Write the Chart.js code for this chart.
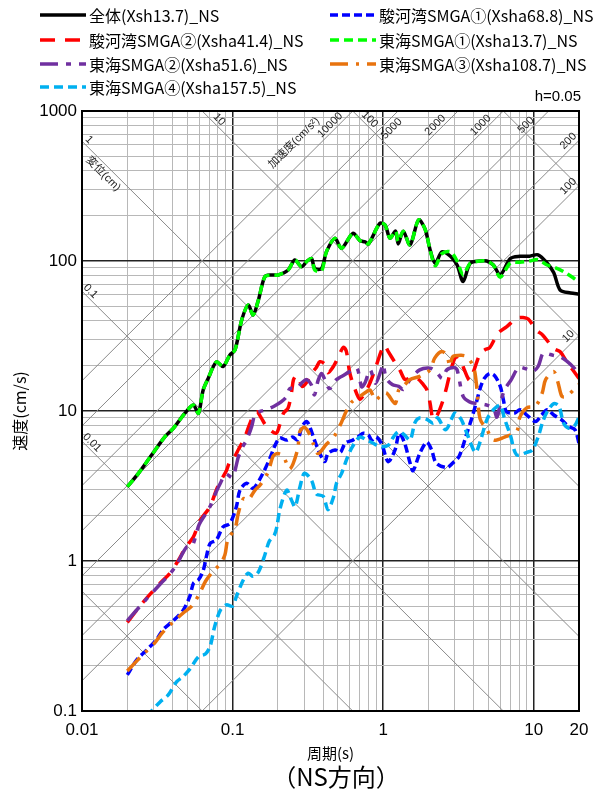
<!DOCTYPE html>
<html>
<head>
<meta charset="utf-8">
<title>速度応答スペクトル (NS方向)</title>
<script src="https://cdn.jsdelivr.net/npm/chart.js@4.4.1/dist/chart.umd.min.js"></script>
<style>
  body { margin: 0; background: #fff; }
  #wrap { position: relative; width: 598px; height: 794px; overflow: hidden; font-family: "Noto Sans CJK JP", "Noto Sans", sans-serif; color: #000; }
  #chart { position: absolute; left: 0; top: 0; }
  .item { position: absolute; height: 22px; display: flex; align-items: center; font-size: 16px; white-space: nowrap; }
  .item svg { margin-right: 3px; }
  #hval { position: absolute; right: 17px; top: 87px; font-size: 15px; font-family: "Liberation Sans", Arial, sans-serif; }
  #caption { position: absolute; left: 236px; width: 200px; text-align: center; top: 758px; font-size: 24px; }
</style>
</head>
<body>
<div id="wrap">
  <canvas id="chart" width="598" height="794"></canvas>
  <div id="legend"></div>
  <div id="hval">h=0.05</div>
  <div id="caption">（NS方向）</div>
</div>
<script>
// 周期(s) と 速度(cm/s) を図から読み取り
const zentaiT = [0.02, 0.0237, 0.029, 0.0356, 0.0404, 0.0483, 0.0549, 0.0593, 0.0638, 0.0689, 0.0782, 0.0865, 0.096, 0.1038, 0.115, 0.127, 0.137, 0.1485, 0.164, 0.182, 0.201, 0.234, 0.259, 0.287, 0.31, 0.334, 0.352, 0.39, 0.42, 0.478, 0.53, 0.63, 0.70, 0.76, 0.80, 0.95, 1.03, 1.11, 1.21, 1.26, 1.36, 1.51, 1.72, 1.90, 2.05, 2.22, 2.46, 2.8, 3.1, 3.4, 3.79, 4.4, 4.88, 5.4, 6.0, 7.0, 8.1, 9.4, 10.7, 12.3, 13.6, 15.0, 17.6, 20];
const zentaiV = [3.13, 3.84, 5.09, 6.74, 7.67, 9.67, 10.96, 9.67, 13.8, 16.5, 21.3, 19.8, 23.6, 25.5, 40.4, 50.9, 43.7, 55, 78.6, 80.7, 80.7, 87, 101.6, 91.6, 99, 104, 89, 89, 115, 141.6, 121.6, 153, 137, 134, 130, 178, 174, 142, 158, 130, 158, 128, 188, 163, 119, 96.6, 115, 107.5, 94, 73, 96.6, 100, 100, 94, 80.7, 104, 107.6, 107.6, 110, 96.6, 83.5, 64, 61.2, 60.3];

const surugaT1 = [0.02, 0.0231, 0.0269, 0.0313, 0.0347, 0.0404, 0.047, 0.052, 0.055, 0.0594, 0.064, 0.067, 0.071, 0.078, 0.0866, 0.096, 0.106, 0.112, 0.124, 0.137, 0.156, 0.178, 0.19, 0.206, 0.229, 0.25, 0.27, 0.29, 0.31, 0.325, 0.35, 0.38, 0.41, 0.43, 0.48, 0.52, 0.56, 0.63, 0.68, 0.74, 0.8, 0.84, 0.9, 0.98, 1.08, 1.2, 1.28, 1.39, 1.51, 1.58, 1.75, 1.95, 2.1, 2.25, 2.65, 2.9, 3.2, 3.6, 3.9, 4.2, 4.4, 4.7, 5.1, 5.5, 6.0, 6.3, 6.6, 7.5, 8.1, 9.0, 10.3, 11.3, 12.3, 13.6, 15.4, 17.0, 18.8, 20];
const surugaV1 = [0.174, 0.219, 0.255, 0.30, 0.35, 0.40, 0.47, 0.58, 0.71, 0.75, 0.87, 1.07, 1.31, 1.38, 1.69, 1.78, 2.3, 2.97, 3.3, 3.05, 3.7, 4.9, 5.8, 6.6, 6.4, 6.7, 6.4, 7.9, 8.5, 7.9, 6.4, 5.2, 4.6, 5.2, 5.5, 5.3, 6.1, 6.4, 6.7, 7.1, 6.9, 6.4, 6.7, 6.0, 4.6, 5.5, 7.1, 6.1, 4.5, 4.0, 5.2, 6.2, 5.5, 4.5, 4.2, 4.5, 5.0, 7.1, 9.1, 11.8, 14.1, 16.5, 17.8, 17.2, 14.6, 11.8, 9.9, 9.7, 10.2, 9.4, 8.5, 9.4, 10.2, 9.4, 8.7, 7.9, 7.5, 6.1];

const surugaT2 = [0.02, 0.0256, 0.033, 0.0384, 0.0426, 0.0496, 0.055, 0.061, 0.0707, 0.078, 0.083, 0.091, 0.096, 0.1, 0.11, 0.12, 0.13, 0.138, 0.145, 0.155, 0.165, 0.18, 0.195, 0.205, 0.217, 0.234, 0.246, 0.254, 0.265, 0.275, 0.29, 0.31, 0.33, 0.36, 0.38, 0.41, 0.43, 0.47, 0.51, 0.545, 0.57, 0.6, 0.65, 0.7, 0.75, 0.82, 0.9, 0.97, 1.02, 1.08, 1.2, 1.3, 1.4, 1.55, 1.7, 1.85, 1.95, 2.05, 2.15, 2.3, 2.5, 2.65, 2.78, 3.0, 3.2, 3.45, 3.75, 4.0, 4.4, 4.8, 5.1, 5.8, 6.6, 7.7, 8.5, 9.2, 10.4, 11.5, 13.6, 15, 16.6, 20];
const surugaV2 = [0.39, 0.535, 0.71, 0.83, 0.97, 1.26, 1.45, 1.87, 2.3, 2.97, 3.4, 4.0, 4.6, 4.7, 5.6, 6.6, 8.2, 9.4, 9.9, 9.0, 8.1, 7.4, 7.1, 8.0, 9.6, 10.5, 13.2, 16.2, 17.2, 16.5, 14.6, 15.5, 17.5, 19.5, 21.3, 20.5, 18.0, 20, 23.5, 26.6, 25, 18, 14, 12, 13, 15.5, 20, 25, 27.5, 25, 21, 18.5, 16.2, 16.8, 16.4, 15, 13.9, 11.3, 8.8, 9.5, 11.8, 14.6, 17.8, 22.5, 23, 19, 16, 18.5, 24, 25.8, 26.4, 33, 36.4, 41.5, 42, 41, 34.7, 32, 26.1, 24.8, 21.3, 16.5];

const tokaiT1 = [0.02, 0.0237, 0.029, 0.0356, 0.0404, 0.0483, 0.0549, 0.0593, 0.0638, 0.0689, 0.0782, 0.0865, 0.096, 0.1038, 0.115, 0.127, 0.137, 0.1485, 0.164, 0.182, 0.201, 0.234, 0.259, 0.287, 0.31, 0.334, 0.352, 0.39, 0.42, 0.478, 0.53, 0.63, 0.70, 0.76, 0.80, 0.95, 1.03, 1.11, 1.21, 1.26, 1.36, 1.51, 1.72, 1.90, 2.05, 2.22, 2.46, 2.8, 3.1, 3.4, 3.79, 4.4, 4.88, 5.4, 6.0, 7.0, 8.1, 9.4, 10.7, 12.3, 13.6, 15.8, 20];
const tokaiV1 = [3.13, 3.84, 5.09, 6.74, 7.67, 9.67, 10.96, 9.67, 13.8, 16.5, 21.3, 19.8, 23.6, 25.5, 40.4, 50.9, 43.7, 55, 78.6, 80.7, 80.7, 87, 101.6, 91.6, 99, 104, 87, 86, 115, 141.6, 121.6, 153, 137, 134, 130, 178, 174, 142, 158, 135, 158, 128, 188, 163, 119, 93, 112, 115, 100, 81, 96.6, 100, 100, 94, 78, 97, 98, 100, 102, 94, 91, 85, 72.7];

const tokaiT2 = [0.02, 0.0256, 0.033, 0.0384, 0.0426, 0.0496, 0.054, 0.06, 0.07, 0.078, 0.083, 0.09, 0.1, 0.105, 0.109, 0.117, 0.124, 0.134, 0.141, 0.151, 0.168, 0.19, 0.21, 0.229, 0.24, 0.266, 0.29, 0.31, 0.334, 0.35, 0.37, 0.39, 0.41, 0.44, 0.49, 0.54, 0.6, 0.67, 0.72, 0.76, 0.82, 0.89, 0.98, 1.0, 1.05, 1.15, 1.27, 1.36, 1.51, 1.75, 2.05, 2.25, 2.47, 2.65, 2.95, 3.1, 3.4, 3.75, 4.2, 4.8, 5.4, 5.7, 6.0, 6.4, 7.1, 7.7, 8.1, 9.0, 9.8, 10.7, 11.5, 12.2, 13.5, 15, 16.6, 18.6, 20];
const tokaiV2 = [0.40, 0.53, 0.70, 0.82, 0.95, 1.24, 1.26, 1.75, 2.25, 2.9, 3.3, 3.8, 3.6, 4.2, 4.9, 5.8, 6.4, 7.9, 9.5, 9.9, 10.2, 10.8, 11.5, 12.5, 14.1, 14.1, 15.5, 16.2, 14.9, 12.8, 16, 17.8, 16.2, 14.1, 16.2, 17.2, 18.3, 19.3, 14.5, 15.5, 18.8, 15.3, 19.3, 20.5, 16.5, 15, 14.6, 13.9, 16.2, 18.8, 19.3, 18.3, 16.5, 18.8, 19.5, 18.8, 12.5, 11.5, 11.2, 11.0, 10.4, 9.1, 11.2, 13.8, 16.2, 18.8, 19.6, 19, 18.3, 19.8, 24.2, 24.2, 23.5, 23, 21.5, 19.3, 17.4];

const tokaiT3 = [0.02, 0.0256, 0.03, 0.034, 0.04, 0.047, 0.0535, 0.06, 0.066, 0.074, 0.083, 0.089, 0.093, 0.104, 0.109, 0.118, 0.127, 0.141, 0.152, 0.172, 0.186, 0.2, 0.217, 0.24, 0.27, 0.28, 0.3, 0.32, 0.345, 0.37, 0.42, 0.47, 0.52, 0.57, 0.62, 0.7, 0.78, 0.82, 0.89, 0.95, 1.05, 1.2, 1.27, 1.36, 1.51, 1.75, 2.05, 2.2, 2.45, 2.65, 2.78, 2.9, 3.3, 3.6, 4.0, 4.2, 4.4, 4.9, 5.4, 6.4, 7.7, 8.1, 9.0, 10.3, 11.4, 12, 13.6, 14.5, 15.4, 16.5, 19.4, 20];
const tokaiV3 = [0.185, 0.24, 0.28, 0.33, 0.39, 0.45, 0.5, 0.6, 0.73, 0.85, 0.96, 1.1, 1.39, 1.65, 2.07, 2.6, 2.55, 2.97, 3.2, 3.9, 5.0, 5.2, 5.0, 4.1, 5.5, 7.3, 7.8, 7.2, 6.0, 5.2, 6.0, 6.7, 8.1, 10.0, 11.5, 12.5, 13.5, 13.8, 11.8, 12.5, 13.2, 11.2, 13.8, 14.6, 16.2, 17, 18.8, 22.5, 24.9, 23.5, 19.8, 23, 23.5, 23, 19.5, 14, 8.9, 7.5, 6.4, 6.7, 7.3, 9.1, 10.5, 10.8, 13.2, 16.2, 18.3, 15.5, 12.5, 12.5, 14.6, 15];

const tokaiT4 = [0.027, 0.029, 0.033, 0.0374, 0.0426, 0.047, 0.052, 0.0594, 0.066, 0.071, 0.076, 0.083, 0.091, 0.1, 0.106, 0.118, 0.127, 0.137, 0.149, 0.164, 0.175, 0.19, 0.197, 0.206, 0.229, 0.246, 0.26, 0.28, 0.30, 0.334, 0.36, 0.4, 0.43, 0.47, 0.49, 0.53, 0.57, 0.62, 0.7, 0.78, 0.86, 0.95, 1.08, 1.17, 1.27, 1.39, 1.51, 1.63, 1.75, 1.95, 2.15, 2.3, 2.6, 2.9, 3.0, 3.3, 3.6, 4.1, 4.4, 4.9, 5.4, 6.0, 6.4, 7.0, 7.7, 9.0, 9.8, 10.7, 11.5, 12.3, 13.6, 14.7, 15.8, 17, 18.6, 20];
const tokaiV4 = [0.092, 0.1, 0.115, 0.128, 0.157, 0.17, 0.19, 0.23, 0.24, 0.27, 0.365, 0.47, 0.51, 0.5, 0.58, 0.75, 0.83, 0.79, 0.85, 1.1, 1.35, 1.5, 1.69, 2.2, 2.97, 2.55, 2.3, 3.1, 3.84, 3.46, 2.8, 2.7, 2.2, 2.7, 3.3, 3.84, 4.7, 5.7, 6.7, 6.4, 6.1, 5.8, 5.9, 6.7, 7.3, 6.9, 6.4, 8.4, 9.0, 8.8, 8.3, 9.0, 7.5, 9.2, 9.7, 8.8, 7.1, 5.3, 6.2, 8.8, 10.2, 10.9, 8.9, 6.9, 5.1, 5.3, 5.5, 6.7, 8.5, 9.9, 11.2, 10.8, 8.3, 7.7, 7.9, 9.1];

const seriesNames = ['全体(Xsh13.7)_NS', '駿河湾SMGA①(Xsha68.8)_NS', '駿河湾SMGA②(Xsha41.4)_NS', '東海SMGA①(Xsha13.7)_NS', '東海SMGA②(Xsha51.6)_NS', '東海SMGA③(Xsha108.7)_NS', '東海SMGA④(Xsha157.5)_NS'];
const seriesT = [zentaiT, surugaT1, surugaT2, tokaiT1, tokaiT2, tokaiT3, tokaiT4];
const seriesV = [zentaiV, surugaV1, surugaV2, tokaiV1, tokaiV2, tokaiV3, tokaiV4];
const seriesColors = ['#000000', '#0000ff', '#ff0000', '#00ff00', '#7030a0', '#e8730e', '#00b0f0'];
const seriesDash = [[], [8, 4], [15, 10], [9, 5], [18, 8, 5, 8], [18, 8, 3, 8], [9, 5]];

// 三軸の斜線 (変位 cm, 加速度 cm/s2)
const dispLines = [0.001, 0.01, 0.1, 1, 10, 100, 1000];
const accLines = [10, 100, 200, 500, 1000, 2000, 5000, 10000];

const xLabels = [0.01, 0.1, 1, 10, 20];
const yLabels = [0.1, 1, 10, 100, 1000];

// 凡例
const legendSlots = [[40, 15], [330, 15], [40, 40], [330, 40], [40, 64], [330, 64], [40, 87]];
const legendEl = document.getElementById('legend');
seriesNames.forEach((name, i) => {
  const [lx, ly] = legendSlots[i];
  const d = document.createElement('div');
  d.className = 'item';
  d.style.left = lx + 'px';
  d.style.top = (ly - 11) + 'px';
  const dash = seriesDash[i].length ? `stroke-dasharray="${seriesDash[i].join(' ')}"` : '';
  d.innerHTML = `<svg width="46" height="6"><line x1="0" y1="3" x2="46" y2="3" stroke="${seriesColors[i]}" stroke-width="3.5" ${dash}/></svg><span>${name}</span>`;
  legendEl.appendChild(d);
});

function logTicks(min, max) {
  const t = [];
  for (let e = -2; e <= 3; e++) {
    for (let m = 1; m < 10; m++) {
      const v = +(m * Math.pow(10, e)).toPrecision(3);
      if (v >= min * 0.9999 && v <= max * 1.0001) t.push({ value: v });
    }
  }
  return t;
}
function isDecade(v) {
  const l = Math.log10(v);
  return Math.abs(l - Math.round(l)) < 1e-6;
}

const tripartite = {
  id: 'tripartite',
  beforeDatasetsDraw(chart) {
    const { ctx, chartArea: a, scales: { x, y } } = chart;
    const tMin = x.min, tMax = x.max;
    ctx.save();
    ctx.beginPath();
    ctx.rect(a.left, a.top, a.right - a.left, a.bottom - a.top);
    ctx.clip();
    ctx.strokeStyle = '#8a8a8a';
    ctx.lineWidth = 1;
    const seg = (t0, v0, t1, v1) => {
      ctx.beginPath();
      ctx.moveTo(x.getPixelForValue(t0), y.getPixelForValue(v0));
      ctx.lineTo(x.getPixelForValue(t1), y.getPixelForValue(v1));
      ctx.stroke();
    };
    dispLines.forEach(d => seg(tMin, 2 * Math.PI * d / tMin, tMax, 2 * Math.PI * d / tMax));
    accLines.forEach(A => seg(tMin, A * tMin / (2 * Math.PI), tMax, A * tMax / (2 * Math.PI)));

    // 斜線ラベル
    const r = Math.SQRT1_2;
    ctx.fillStyle = '#222';
    ctx.textAlign = 'center';
    ctx.textBaseline = 'middle';
    const put = (text, px, py, rot, size) => {
      ctx.save();
      ctx.translate(px, py);
      ctx.rotate(rot);
      ctx.font = size + 'px "Liberation Sans", "Noto Sans CJK JP", sans-serif';
      ctx.fillText(text, 0, 0);
      ctx.restore();
    };
    // 変位: 右下がり
    const dispLeft = (d, text, s, p) => {
      const cx = a.left, cy = y.getPixelForValue(2 * Math.PI * d / tMin);
      put(text, cx + r * s + r * p, cy + r * s - r * p, Math.PI / 4, 11);
    };
    const dispTop = (d, text, s, p) => {
      const cx = x.getPixelForValue(2 * Math.PI * d / y.max), cy = a.top;
      put(text, cx + r * s + r * p, cy + r * s - r * p, Math.PI / 4, 11);
    };
    dispLeft(1, '1', 4, 6);
    dispLeft(1, '変位(cm)', 38, -8);
    dispLeft(0.1, '0.1', 6, 6);
    dispLeft(0.01, '0.01', 8, 6);
    dispTop(10, '10', 18, 6);
    dispTop(100, '100', 18, 6);
    // 加速度: 右上がり
    const accTop = (A, text, s, p) => {
      const cx = x.getPixelForValue(2 * Math.PI * y.max / A), cy = a.top;
      put(text, cx - r * s - r * p, cy + r * s - r * p, -Math.PI / 4, 11);
    };
    const accRight = (A, text, s, p) => {
      const cx = a.right, cy = y.getPixelForValue(A * tMax / (2 * Math.PI));
      put(text, cx - r * s - r * p, cy + r * s - r * p, -Math.PI / 4, 11);
    };
    accTop(10000, '加速度(cm/s²)', 64, 19);
    accTop(10000, '10000', 26, 6);
    accTop(5000, '5000', 17, -8);
    accTop(2000, '2000', 26, 6);
    accTop(1000, '1000', 26, 6);
    accTop(500, '500', 26, 6);
    accRight(200, '200', 8, 7);
    accRight(100, '100', 8, 7);
    accRight(10, '10', 8, 7);
    ctx.restore();
  },
  afterDraw(chart) {
    const { ctx, chartArea: a } = chart;
    ctx.save();
    ctx.strokeStyle = '#000';
    ctx.lineWidth = 2;
    ctx.strokeRect(a.left, a.top, a.right - a.left, a.bottom - a.top);
    ctx.restore();
  }
};

const datasets = seriesNames.map((name, i) => ({
  label: name,
  data: seriesT[i].map((t, k) => ({ x: t, y: seriesV[i][k] })),
  borderColor: seriesColors[i],
  borderWidth: 3.5,
  borderDash: seriesDash[i],
  pointRadius: 0,
  tension: 0.3,
  fill: false,
  order: seriesNames.length - i
}));

const tickFont = { family: '"Liberation Sans", Arial, sans-serif', size: 17 };

new Chart(document.getElementById('chart'), {
  type: 'line',
  data: { datasets },
  plugins: [tripartite],
  options: {
    responsive: false,
    animation: false,
    layout: { padding: { top: 111, right: 19, left: 0, bottom: 0 } },
    plugins: { legend: { display: false }, tooltip: { enabled: false } },
    scales: {
      x: {
        type: 'logarithmic',
        min: 0.01,
        max: 20,
        afterBuildTicks: s => { s.ticks = logTicks(0.01, 20); },
        afterFit: s => { s.height = 83; },
        ticks: {
          autoSkip: false, maxRotation: 0, padding: 9, color: '#000', font: tickFont,
          callback: v => xLabels.includes(+v.toPrecision(3)) ? String(+v.toPrecision(3)) : ''
        },
        grid: {
          drawTicks: false,
          color: c => isDecade(c.tick.value) ? '#222' : '#b8b8b8',
          lineWidth: c => isDecade(c.tick.value) ? 1.5 : 1
        },
        border: { display: false },
        title: { display: true, text: '周期(s)', color: '#000', padding: { top: 0, bottom: 32 }, font: { family: '"Noto Sans CJK JP", sans-serif', size: 15 } }
      },
      y: {
        type: 'logarithmic',
        min: 0.1,
        max: 1000,
        afterBuildTicks: s => { s.ticks = logTicks(0.1, 1000); },
        afterFit: s => { s.width = 82; },
        ticks: {
          autoSkip: false, padding: 5, color: '#000', font: tickFont,
          callback: v => yLabels.includes(+v.toPrecision(3)) ? String(+v.toPrecision(3)) : ''
        },
        grid: {
          drawTicks: false,
          color: c => isDecade(c.tick.value) ? '#222' : '#b8b8b8',
          lineWidth: c => isDecade(c.tick.value) ? 1.5 : 1
        },
        border: { display: false },
        title: { display: true, text: '速度(cm/s)', color: '#000', padding: { top: 10, bottom: 0 }, font: { family: '"Noto Sans CJK JP", sans-serif', size: 16 } }
      }
    }
  }
});
</script>
</body>
</html>
